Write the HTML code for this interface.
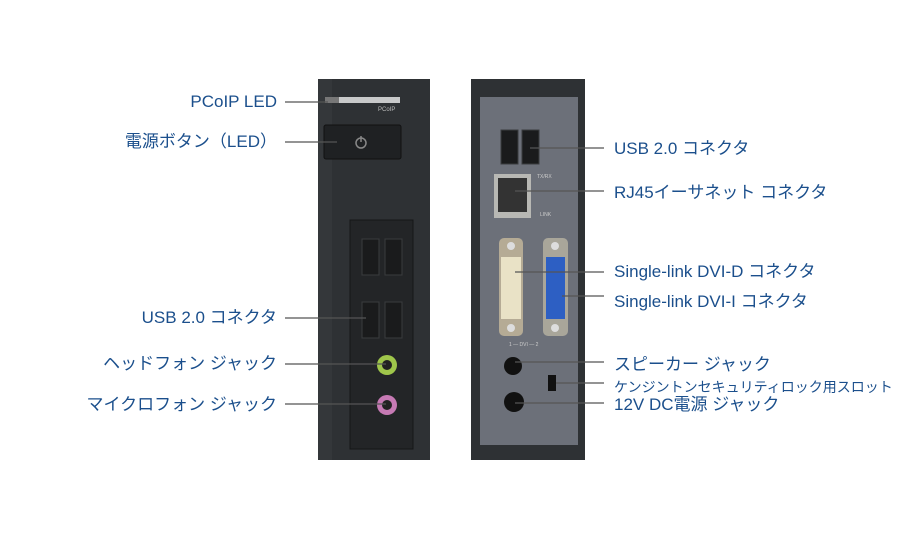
<!DOCTYPE html><html><head><style>
body{margin:0;width:900px;height:543px;background:#fff;position:relative;overflow:hidden;font-family:"Liberation Sans","Noto Sans CJK JP",sans-serif}
.l{position:absolute;color:#1b4f8c;font-size:17px;white-space:nowrap;line-height:20px}
.r{text-align:right}
</style></head><body>
<svg width="900" height="543" style="position:absolute;left:0;top:0">
<!-- left device -->
<rect x="318" y="79" width="112" height="381" fill="#2e3134"/>
<rect x="318" y="79" width="14" height="381" fill="#34373a"/>
<rect x="325" y="97" width="75" height="6" fill="#c8c9ca"/>
<rect x="325" y="97" width="14" height="6" fill="#777"/>
<text x="378" y="111" font-size="6" fill="#bbb" font-family="Liberation Sans">PCoIP</text>
<rect x="324" y="125" width="77" height="34" rx="2" fill="#1f2123" stroke="#111"/>
<circle cx="361" cy="143" r="5" fill="none" stroke="#888" stroke-width="1.5"/>
<line x1="361" y1="136" x2="361" y2="142" stroke="#888" stroke-width="1.5"/>
<rect x="350" y="220" width="63" height="229" fill="#232527" stroke="#151617"/>
<g fill="#1a1b1c" stroke="#3a3c3e">
<rect x="362" y="239" width="17" height="36"/><rect x="385" y="239" width="17" height="36"/>
<rect x="362" y="302" width="17" height="36"/><rect x="385" y="302" width="17" height="36"/>
<rect x="501" y="130" width="17" height="34"/><rect x="522" y="130" width="17" height="34"/>
</g>
<circle cx="387" cy="365" r="10" fill="#9fc64b"/><circle cx="387" cy="365" r="5" fill="#222"/>
<circle cx="387" cy="405" r="10" fill="#c67ab4"/><circle cx="387" cy="405" r="5" fill="#222"/>
<!-- right device -->
<rect x="471" y="79" width="114" height="381" fill="#2e3134"/>
<rect x="480" y="97" width="98" height="348" fill="#6c7079"/>
<g fill="#1a1b1c" stroke="#3a3c3e">
<rect x="501" y="130" width="17" height="34"/><rect x="522" y="130" width="17" height="34"/>
</g>
<rect x="494" y="174" width="37" height="44" fill="#b8b8b4"/>
<rect x="498" y="178" width="29" height="34" fill="#333"/>
<text x="537" y="178" font-size="5" fill="#ccc">TX/RX</text>
<text x="540" y="216" font-size="5" fill="#ccc">LINK</text>
<rect x="499" y="238" width="24" height="98" rx="5" fill="#b5ab95"/>
<rect x="501" y="257" width="20" height="62" fill="#e9e2c6"/>
<rect x="543" y="238" width="25" height="98" rx="5" fill="#a9a69a"/>
<rect x="546" y="257" width="19" height="62" fill="#2d5fc3"/>
<circle cx="511" cy="246" r="4" fill="#ddd"/><circle cx="511" cy="328" r="4" fill="#ddd"/>
<circle cx="555" cy="246" r="4" fill="#ddd"/><circle cx="555" cy="328" r="4" fill="#ddd"/>
<text x="509" y="346" font-size="5" fill="#ccc">1 — DVI — 2</text>
<circle cx="513" cy="366" r="9" fill="#111"/>
<rect x="548" y="375" width="8" height="16" fill="#111"/>
<circle cx="514" cy="402" r="10" fill="#111"/>
<g stroke="#555" stroke-width="1.2">
<line x1="285" y1="102" x2="328" y2="102"/>
<line x1="285" y1="142" x2="337" y2="142"/>
<line x1="285" y1="318" x2="366" y2="318"/>
<line x1="285" y1="364" x2="386" y2="364"/>
<line x1="285" y1="404" x2="386" y2="404"/>
<line x1="530" y1="148" x2="604" y2="148"/>
<line x1="515" y1="191" x2="604" y2="191"/>
<line x1="515" y1="272" x2="604" y2="272"/>
<line x1="562" y1="296" x2="604" y2="296"/>
<line x1="515" y1="362" x2="604" y2="362"/>
<line x1="556" y1="383" x2="604" y2="383"/>
<line x1="515" y1="403" x2="604" y2="403"/>
</g>
</svg>
<div class="l r" style="right:623px;top:92px">PCoIP LED</div>
<div class="l r" style="right:623px;top:132px">電源ボタン（LED）</div>
<div class="l r" style="right:623px;top:308px">USB 2.0 コネクタ</div>
<div class="l r" style="right:623px;top:354px">ヘッドフォン ジャック</div>
<div class="l r" style="right:623px;top:395px">マイクロフォン ジャック</div>
<div class="l" style="left:614px;top:139px">USB 2.0 コネクタ</div>
<div class="l" style="left:614px;top:183px">RJ45イーサネット コネクタ</div>
<div class="l" style="left:614px;top:262px">Single-link DVI-D コネクタ</div>
<div class="l" style="left:614px;top:292px">Single-link DVI-I コネクタ</div>
<div class="l" style="left:614px;top:355px">スピーカー ジャック</div>
<div class="l" style="left:614px;top:377px;font-size:14px">ケンジントンセキュリティロック用スロット</div>
<div class="l" style="left:614px;top:395px">12V DC電源 ジャック</div>
</body></html>
